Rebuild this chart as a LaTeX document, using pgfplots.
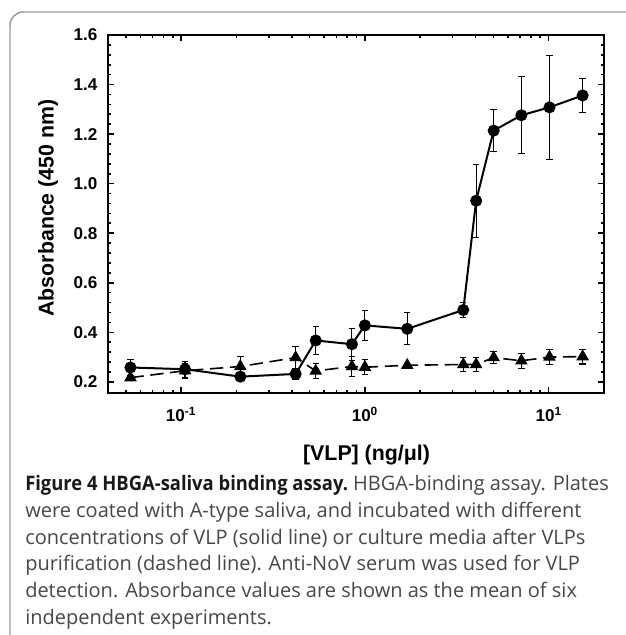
\documentclass[border=0pt]{standalone}
\usepackage{fontspec}
\setmainfont{Liberation Sans}
\newfontfamily\capfont{Open Sans}
\usepackage{pgfplots}
\pgfplotsset{compat=1.18}
\pgfplotstableread{
x y e
0.053 0.258 0.033
0.105 0.251 0.033
0.21 0.221 0.010
0.42 0.232 0.022
0.54 0.367 0.055
0.85 0.352 0.065
1.0 0.428 0.060
1.7 0.414 0.065
3.43 0.490 0.030
4.03 0.931 0.148
5.02 1.214 0.085
7.1 1.276 0.155
10.1 1.308 0.209
15.3 1.356 0.070
}\vlp
\pgfplotstableread{
x y e
0.053 0.217 0.010
0.105 0.245 0.030
0.21 0.262 0.040
0.42 0.298 0.045
0.54 0.244 0.030
0.85 0.262 0.040
1.0 0.259 0.030
1.7 0.267 0.006
3.43 0.270 0.030
4.03 0.270 0.030
5.02 0.298 0.025
7.1 0.285 0.030
10.1 0.300 0.030
15.3 0.302 0.030
}\media
\begin{document}
\begin{tikzpicture}
\useasboundingbox (0,0) rectangle (468.75pt,-476.25pt);
\draw[black!40, line width=1.1pt, rounded corners=10pt] (7.5pt,-9pt) rectangle (490pt,-500pt);
\begin{axis}[
  at={(81pt,-294.75pt)}, anchor=south west,
  scale only axis, width=372pt, height=268.5pt,
  xmode=log, xmin=0.04, xmax=20, ymin=0.155, ymax=1.6,
  axis line style={line width=2pt},
  tick align=inside,
  every tick/.style={black, line width=1.2pt},
  major tick length=4.5pt, minor tick length=2.5pt,
  xtick={0.1,1,10},
  xticklabels={\textbf{10\textsuperscript{-1}},\textbf{10\textsuperscript{0}},\textbf{10\textsuperscript{1}}},
  minor xtick={0.05,0.06,0.07,0.08,0.09,0.2,0.3,0.4,0.5,0.6,0.7,0.8,0.9,2,3,4,5,6,7,8,9},
  ytick={0.2,0.4,0.6,0.8,1.0,1.2,1.4,1.6},
  yticklabels={\textbf{0.2},\textbf{0.4},\textbf{0.6},\textbf{0.8},\textbf{1.0},\textbf{1.2},\textbf{1.4},\textbf{1.6}},
  minor y tick num=4,
  tick label style={font=\bfseries\fontsize{12.8}{14}\selectfont},
  yticklabel style={xshift=-4.5pt},
  xticklabel style={yshift=-7pt},
  clip=false,
]
\addplot[black, line width=1.2pt, dash pattern=on 10pt off 5pt,
  mark=triangle*, mark size=4.3pt, mark options={solid, fill=black},
  error bars/.cd, y dir=both, y explicit,
  error bar style={line width=0.8pt, solid},
  error mark options={rotate=90, mark size=2.4pt, line width=0.8pt, solid}]
  table[x=x, y=y, y error=e] {\media};
\addplot[black, line width=1.5pt,
  mark=*, mark size=3.75pt, mark options={solid, fill=black},
  error bars/.cd, y dir=both, y explicit,
  error bar style={line width=0.8pt, solid},
  error mark options={rotate=90, mark size=2.4pt, line width=0.8pt, solid}]
  table[x=x, y=y, y error=e] {\vlp};
\end{axis}
\node[rotate=90, font=\bfseries\fontsize{16}{18}\selectfont] at (36pt,-156pt) {Absorbance (450 nm)};
\node[font=\bfseries\fontsize{16}{18}\selectfont] at (274.9pt,-341pt) {[VLP] (ng/μl)};
\begin{scope}[every node/.style={anchor=base west, inner sep=0pt, font=\capfont\fontsize{15}{17}\selectfont, text=black!72}]
\node at (18.75pt,-368pt) {\textcolor{black!90}{\scalebox{0.92}[1]{\bfseries Figure 4 HBGA-saliva binding assay.}} HBGA-binding assay. Plates};
\node at (18.75pt,-388pt) {were coated with A-type saliva, and incubated with different};
\node at (18.75pt,-408pt) {concentrations of VLP (solid line) or culture media after VLPs};
\node at (18.75pt,-428pt) {purification (dashed line). Anti-NoV serum was used for VLP};
\node at (18.75pt,-448pt) {detection. Absorbance values are shown as the mean of six};
\node at (18.75pt,-468pt) {independent experiments.};
\end{scope}
\end{tikzpicture}
\end{document}
